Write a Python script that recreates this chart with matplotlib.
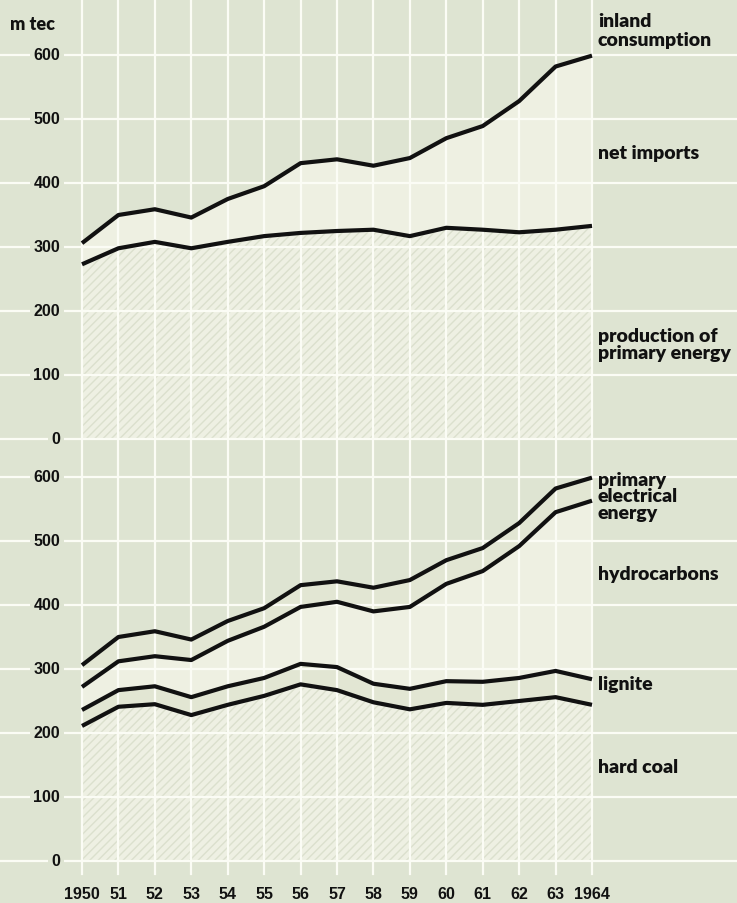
import matplotlib
matplotlib.use("Agg")
import matplotlib.pyplot as plt
import numpy as np

years = list(range(1950, 1965))
xtick_labels = ["1950", "51", "52", "53", "54", "55", "56", "57", "58", "59",
                "60", "61", "62", "63", "1964"]
ytick_values = [0, 100, 200, 300, 400, 500, 600]

inland_consumption = [306, 350, 359, 346, 375, 395, 431, 437, 427, 439, 470, 489, 528, 582, 599]
production = [273, 298, 308, 298, 308, 317, 322, 325, 327, 317, 330, 327, 323, 327, 333]

# bottom panel cumulative levels
hard_coal = [211, 241, 245, 228, 244, 258, 276, 267, 248, 237, 247, 244, 250, 256, 244]
coal_lignite = [236, 267, 273, 256, 273, 286, 308, 303, 277, 269, 281, 280, 286, 297, 284]
coal_lignite_hydro = [272, 312, 320, 314, 344, 366, 397, 405, 390, 397, 433, 453, 492, 545, 563]
total = inland_consumption

W, H = 737, 904
BG = "#dee4d2"
BAND_LIGHT = "#eef0e2"
BAND_MID = "#e2e6d3"
HATCH_BASE = "#eef0e3"
HATCH_COL = "#dbe0cd"
GRID = "#fbfcf5"
NUMFONT = dict(family=["Liberation Sans", "DejaVu Sans"], fontweight="bold")

plt.rcParams["hatch.linewidth"] = 1.0
plt.rcParams["hatch.color"] = HATCH_COL

fig = plt.figure(figsize=(W / 100, H / 100), dpi=100, facecolor=BG)

x0px, x1px = 82, 592
pxper100 = 64.0

def add_axes(zero_px, top_val):
    top_px = zero_px - top_val / 100 * pxper100
    ax = fig.add_axes([x0px / W, 1 - zero_px / H, (x1px - x0px) / W, (zero_px - top_px) / H])
    ax.set_xlim(years[0], years[-1])
    ax.set_ylim(0, top_val)
    ax.axis("off")
    ax.patch.set_alpha(0)
    return ax

ax1 = add_axes(440, 440 / pxper100 * 100)
ax2 = add_axes(862, 600)

axw = x1px - x0px

def hgrid(ax):
    for v in ytick_values:
        ax.axhline(v, xmin=-x0px / axw, xmax=(W - x0px) / axw, color=GRID, lw=1.6,
                   clip_on=False, zorder=3)
        ax.text(-0.043, v, str(v), transform=ax.get_yaxis_transform(), ha="right",
                va="center", fontsize=11.5, color="#111111", zorder=6,
                bbox=dict(facecolor=BG, edgecolor="none", pad=2.5), **NUMFONT)

# ---- top panel
ax1.fill_between(years, 0, production, facecolor=HATCH_BASE, edgecolor=HATCH_COL,
                 hatch="////", linewidth=0, zorder=1)
ax1.fill_between(years, production, inland_consumption, facecolor=BAND_LIGHT,
                 linewidth=0, zorder=1)
for yr in years:
    ax1.axvline(yr, ymin=0, ymax=1, color=GRID, lw=1.6, zorder=3, clip_on=False)
hgrid(ax1)
for s in (inland_consumption, production):
    ax1.plot(years, s, color="#111111", lw=3.0, solid_joinstyle="round",
             solid_capstyle="butt", zorder=5, clip_on=False)

# ---- bottom panel
ax2.fill_between(years, 0, hard_coal, facecolor=HATCH_BASE, edgecolor=HATCH_COL,
                 hatch="////", linewidth=0, zorder=1)
ax2.fill_between(years, hard_coal, coal_lignite, facecolor=BAND_MID, linewidth=0, zorder=1)
ax2.fill_between(years, coal_lignite, coal_lignite_hydro, facecolor=BAND_LIGHT,
                 linewidth=0, zorder=1)
ax2.fill_between(years, coal_lignite_hydro, total, facecolor=BAND_MID, linewidth=0, zorder=1)
top2 = (862 - 440) / 384
bot2 = -(875 - 862) / 384
for yr in years:
    ax2.axvline(yr, ymin=bot2, ymax=top2, color=GRID, lw=1.6, zorder=3, clip_on=False)
hgrid(ax2)
for s in (total, coal_lignite_hydro, coal_lignite, hard_coal):
    ax2.plot(years, s, color="#111111", lw=3.0, solid_joinstyle="round",
             solid_capstyle="butt", zorder=5, clip_on=False)

for yr, lab in zip(years, xtick_labels):
    ax2.text(yr, -(895 - 862) / 384, lab, transform=ax2.get_xaxis_transform(),
             ha="center", va="center", fontsize=11.5, color="#111111", **NUMFONT)

# ---- labels
lab_font = dict(fontsize=14, fontweight="heavy", family=["Lato", "DejaVu Sans"],
                color="#111111", ha="left", va="center", linespacing=0.98)

def flabel(xpx, ypx, s, **kw):
    d = dict(lab_font)
    d.update(kw)
    fig.text(xpx / W, 1 - ypx / H, s, **d)

flabel(10, 24, "m tec", fontsize=13)
flabel(598, 31, "inland\nconsumption", linespacing=1.1)
flabel(598, 154, "net imports")
flabel(598, 345, "production of\nprimary energy")
flabel(598, 497, "primary\nelectrical\nenergy")
flabel(598, 575, "hydrocarbons")
flabel(598, 685, "lignite")
flabel(598, 768, "hard coal")

fig.savefig("out.png", dpi=100, facecolor=BG)
